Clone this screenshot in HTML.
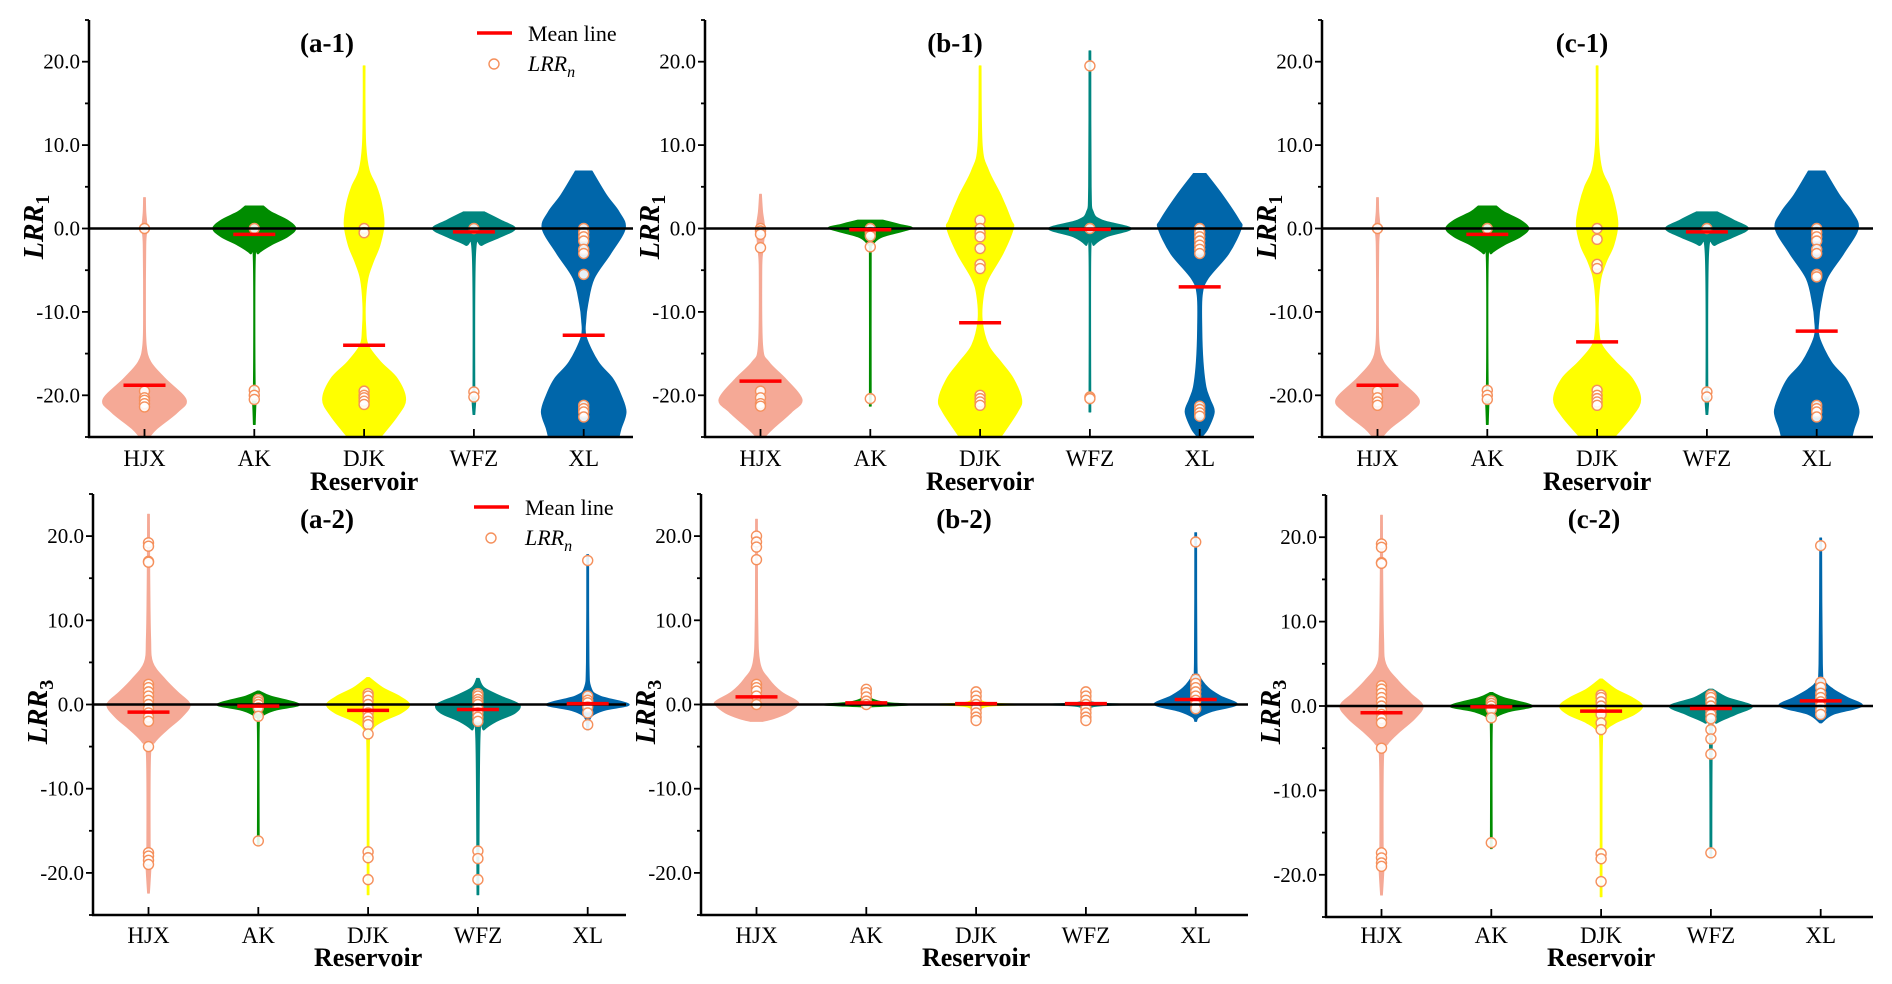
<!DOCTYPE html>
<html>
<head>
<meta charset="utf-8">
<style>
html,body{margin:0;padding:0;background:#fff;}
svg{display:block;}
text{font-family:"Liberation Serif","Times New Roman",serif;fill:#000;}
</style>
</head>
<body>
<svg id="fig" width="1892" height="984" viewBox="0 0 1892 984" xmlns="http://www.w3.org/2000/svg"></svg>
<script>
// ---------- data ----------
const categories = ["HJX","AK","DJK","WFZ","XL"];
const colors = ["#f5a996","#008c00","#ffff00","#008680","#0066aa"];
const yTicks = [20,10,0,-10,-20];
const yTickLabels = ["20.0","10.0","0.0","-10.0","-20.0"];
const panelTitles = ["(a-1)","(b-1)","(c-1)","(a-2)","(b-2)","(c-2)"];
const panelYLabelSub = ["1","1","1","3","3","3"];

// violin profiles: values (y) and relative half-widths (0..100)
const violinY_a1 = [[3.7,2,0,-2,-10,-14,-16,-18,-20.5,-22,-24,-25],[2.7,2,1,0,-1,-2,-3,-4,-19,-20,-21,-23.5],[19.5,15,10,7,5,3,0.5,-2,-4,-6,-9,-12,-14,-16,-18,-20.5,-22.5,-25],[2,1,0,-1,-2,-3,-19,-20,-22.3],[6.9,4,2,0,-3,-6,-9,-11,-13,-16,-18,-20,-22,-24,-25]];
const violinW_a1 = [[0,3,6,3,2,4,15,50,100,80,30,12],[22,40,80,100,80,40,10,2,2,7,4,0],[0,2,4,12,30,42,48,38,22,9,3,4,10,40,80,100,80,40],[25,65,100,65,20,4,2,5,0],[20,55,85,100,65,25,10,5,6,35,70,90,102,90,85]];
const means_a1 = [-18.8,-0.7,-14,-0.4,-12.8];
const points_a1 = [[0,-19.5,-20.3,-20.6,-21,-21.4],[0,-19.4,-20,-20.5],[0,-0.5,-19.5,-20,-20.3,-20.7,-21.1],[0,-19.6,-20.2],[0,-0.5,-1,-1.5,-2.5,-3,-5.5,-21.2,-21.6,-22,-22.6]];

const violinY_b1 = [[4.1,2,0,-2.5,-5,-14,-16,-18,-20.5,-22,-24,-25],[1,0.5,0,-1,-2,-3,-21.3],[19.5,10,7,4,1,0,-3,-6,-8,-11,-14,-16,-18,-20.5,-22,-25],[21.3,5,2,1,0,-1,-2,-3,-22],[6.6,4,1,0,-3,-6,-8,-12,-16,-19,-20.5,-22,-24,-25]];
const violinW_b1 = [[0,5,10,6,3,5,20,60,100,75,30,10],[30,70,100,30,5,2,0],[0,5,20,50,75,80,55,20,8,5,20,50,80,100,90,50],[0,3,8,30,100,40,10,2,0],[15,55,95,100,70,20,6,5,8,15,25,35,20,5]];
const means_b1 = [-18.3,-0.15,-11.3,-0.1,-7];
const points_b1 = [[0,-0.3,-0.7,-2.3,-19.5,-20.3,-21,-21.3],[0,-0.5,-0.9,-2.2,-20.4],[1,0,-0.5,-1,-2.4,-4.3,-4.8,-20,-20.4,-20.8,-21.2],[19.5,0,-20.2,-20.4],[0,-0.5,-1,-1.5,-2,-2.5,-3,-21.3,-21.7,-22.1,-22.5]];

const violinY_c1 = [[3.7,2,0,-2,-10,-14,-16,-18,-20.5,-22,-24,-25],[2.7,2,1,0,-1,-2,-3,-4,-19,-20,-21,-23.5],[19.5,15,10,7,5,3,0.5,-2,-4,-6,-9,-12,-14,-16,-18,-20.5,-22.5,-25],[2,1,0,-1,-2,-3,-19,-20,-22.3],[6.9,4,2,0,-3,-6,-9,-11,-13,-16,-18,-20,-22,-24,-25]];
const violinW_c1 = [[0,3,6,3,2,4,15,50,100,80,30,12],[22,40,80,100,80,40,10,2,2,7,4,0],[0,2,4,12,30,42,50,40,22,9,3,4,12,45,85,105,85,42],[25,65,100,65,20,4,2,5,0],[20,55,85,100,65,25,10,5,6,35,70,90,102,90,85]];
const means_c1 = [-18.8,-0.7,-13.6,-0.4,-12.3];
const points_c1 = [[0,-19.5,-20.3,-20.8,-21.2],[0,-19.4,-20,-20.5],[0,-1.3,-4.3,-4.8,-19.4,-20,-20.4,-20.8,-21.2],[0,-19.6,-20.2],[0,-0.5,-1,-1.5,-2.5,-3,-5.5,-5.8,-21.2,-21.6,-22,-22.6]];

const violinY_a2 = [[22.6,15,8,5,3,1.5,0,-1.5,-3,-4.5,-6,-17,-19,-22.4],[1.6,1,0,-0.7,-1.5,-3,-16.8],[3.2,2,1,0,-1,-2,-3,-5,-22.6],[3.1,2,1,0,-1,-2,-3,-4,-22.6],[17.8,5,2,1,0,-0.7,-1.5,-3]];
const violinW_a2 = [[0,3,5,10,40,70,100,80,45,15,5,4,6,0],[3,30,100,40,8,2,0],[3,35,75,100,80,35,10,3,0],[3,15,55,100,90,45,15,5,0],[0,3,8,30,100,40,8,0]];
const means_a2 = [-0.9,-0.2,-0.7,-0.6,0.1];
const points_a2 = [[19.2,18.8,17,16.9,2.4,2,1.5,1,0.5,0,-0.5,-1,-1.5,-2,-5,-17.6,-18,-18.5,-19],[0.6,0.3,0,-0.4,-1.4,-16.2],[1.3,1,0.5,0,-0.5,-1,-1.5,-2,-2.4,-3.5,-17.5,-18.2,-20.8],[1.3,1,0.6,0.3,0,-0.5,-1,-1.5,-2,-17.4,-18.3,-20.8],[17.1,1,0.5,0.2,-0.3,-1,-2.4]];

const violinY_b2 = [[22,10,5,3,1.5,0.5,0,-1,-1.7,-2],[2,1,0.3,0,-0.2,-0.3],[1.5,0.3,0,-0.3,-1.5],[1.5,0.3,0,-0.3,-1.5],[20.4,5,3.5,2,1,0,-0.8,-1.5,-2]];
const violinW_b2 = [[0,3,8,30,60,95,100,75,40,15],[0,3,40,110,50,0],[2,20,110,20,2],[2,15,100,15,2],[0,3,8,30,60,100,40,8,0]];
const means_b2 = [0.9,0.2,0.1,0.1,0.6];
const points_b2 = [[20,19.3,18.7,17.2,2.4,2,1.6,1,0],[1.8,1.4,0.9,0.4,0],[1.5,1,0.5,0,-0.5,-1,-1.5,-1.9],[1.5,1,0.5,0,-0.5,-1,-1.5,-1.9],[19.3,3,2.5,2,1.5,1,0.5,0,-0.5]];

const violinY_c2 = [[22.6,15,8,5,3,1.5,0,-1.5,-3,-4.5,-6,-17,-19,-22.4],[1.6,1,0,-0.7,-1.5,-3,-16.9],[3.2,2,1,0,-1,-2,-3,-5,-22.6],[2,1,0,-1,-2,-3,-18],[19.9,5,3,2,1,0,-1,-2]];
const violinW_c2 = [[0,3,5,10,40,70,100,80,45,15,5,4,6,0],[3,30,100,40,8,2,0],[3,35,75,100,80,35,10,3,0],[5,40,100,60,15,4,0],[0,4,10,30,65,100,30,0]];
const means_c2 = [-0.8,-0.1,-0.6,-0.3,0.6];
const points_c2 = [[19.2,18.8,17,16.9,2.4,2,1.5,1,0.5,0,-0.5,-1,-1.5,-2,-5,-17.4,-18,-18.6,-19],[0.6,0.3,0,-0.4,-1.4,-16.2],[1.3,1,0.5,0,-0.5,-1,-2,-2.8,-17.5,-18.1,-20.8],[1.3,1,0.5,0,-0.5,-1,-1.5,-2.8,-3.9,-5.7,-17.4],[19,2.8,2.2,1.5,1,0.5,0,-0.5,-1]];

// ---------- layout ----------
const panels = [
 {ax:89, right:633, top:20, bottom:437, titleX:327, titleY:52, yl:227, catY:466, resY:490, vy:violinY_a1, vw:violinW_a1, m:means_a1, p:points_a1, legend:{x:477,y:33}},
 {ax:705, right:1254, top:20, bottom:437, titleX:955, titleY:52, yl:227, catY:466, resY:490, vy:violinY_b1, vw:violinW_b1, m:means_b1, p:points_b1},
 {ax:1322, right:1873, top:20, bottom:437, titleX:1582, titleY:52, yl:227, catY:466, resY:490, vy:violinY_c1, vw:violinW_c1, m:means_c1, p:points_c1},
 {ax:93, right:626, top:494, bottom:915, titleX:327, titleY:528, yl:712, catY:943, resY:966, vy:violinY_a2, vw:violinW_a2, m:means_a2, p:points_a2, legend:{x:474,y:507}},
 {ax:701, right:1248, top:494, bottom:915, titleX:964, titleY:528, yl:712, catY:943, resY:966, vy:violinY_b2, vw:violinW_b2, m:means_b2, p:points_b2},
 {ax:1326, right:1873, top:495, bottom:917, titleX:1594, titleY:528, yl:712, catY:943, resY:966, vy:violinY_c2, vw:violinW_c2, m:means_c2, p:points_c2}
];
const YMIN=-25, YMAX=25, CAT_STEP=109.8, HALF_MAX=41.5;
const NS="http://www.w3.org/2000/svg";
const svg=document.getElementById('fig');
function mk(tag, attrs, parent){const e=document.createElementNS(NS,tag);for(const k in attrs)e.setAttribute(k,attrs[k]);(parent||svg).appendChild(e);return e;}

function smooth(pts){
  // Catmull-Rom to bezier, open
  let d="M"+pts[0][0].toFixed(2)+","+pts[0][1].toFixed(2);
  for(let i=0;i<pts.length-1;i++){
    const p0=pts[i-1]||pts[i], p1=pts[i], p2=pts[i+1], p3=pts[i+2]||p2;
    const c1=[p1[0]+(p2[0]-p0[0])/6, p1[1]+(p2[1]-p0[1])/6];
    const c2=[p2[0]-(p3[0]-p1[0])/6, p2[1]-(p3[1]-p1[1])/6];
    d+=" C"+c1[0].toFixed(2)+","+c1[1].toFixed(2)+" "+c2[0].toFixed(2)+","+c2[1].toFixed(2)+" "+p2[0].toFixed(2)+","+p2[1].toFixed(2);
  }
  return d;
}

panels.forEach((P,pi)=>{
  const g=mk('g',{});
  
  
  const yS=v=>P.bottom-(v-YMIN)/(YMAX-YMIN)*(P.bottom-P.top);
  const xS=i=>P.ax+55.5+i*CAT_STEP;
  const clipId='clip'+pi;
  const cp=mk('clipPath',{id:clipId},g);
  mk('rect',{x:P.ax,y:P.top-5,width:P.right-P.ax+5,height:P.bottom-P.top+5},cp);
  const plot=mk('g',{'clip-path':'url(#'+clipId+')'},g);

  // violins
  categories.forEach((c,i)=>{
    const ys=P.vy[i], ws=P.vw[i], cx=xS(i);
    const right=ys.map((v,k)=>[cx+Math.max(ws[k]/100*HALF_MAX,0.9), yS(v)]);
    const left=ys.map((v,k)=>[cx-Math.max(ws[k]/100*HALF_MAX,0.9), yS(v)]).reverse();
    let d=smooth(right);
    d+=" L"+left[0][0].toFixed(2)+","+left[0][1].toFixed(2)+" "+smooth(left).slice(1).replace(/^[^C]*/,'')+" Z";
    const path=mk('path',{d:d,fill:colors[i],stroke:colors[i],'stroke-width':1,'stroke-linejoin':'round'},plot);
    
    
  });
  // zero line
  const zl=mk('line',{x1:P.ax,x2:P.right,y1:yS(0),y2:yS(0),stroke:'#000','stroke-width':2.5},g);
  
  
  // points
  categories.forEach((c,i)=>{
    P.p[i].forEach(v=>{
      const pt=mk('circle',{cx:xS(i),cy:yS(v),r:5,fill:'#fff','fill-opacity':0.9,stroke:'#f5905c','stroke-width':1.4},plot);
      
      
    });
  });
  // means
  categories.forEach((c,i)=>{
    const ml=mk('line',{x1:xS(i)-21,x2:xS(i)+21,y1:yS(P.m[i]),y2:yS(P.m[i]),stroke:'#ff0000','stroke-width':3.5},g);
    
    
  });
  // axes
  const ya=mk('line',{x1:P.ax,x2:P.ax,y1:P.top,y2:P.bottom+1,stroke:'#000','stroke-width':2.5},g);
  
  
  const xa=mk('line',{x1:P.ax-1,x2:P.right,y1:P.bottom,y2:P.bottom,stroke:'#000','stroke-width':2.5},g);
  
  
  for(let v=-25;v<=25;v+=5){
    const major=(v%10===0);
    mk('line',{x1:P.ax-(major?7:4),x2:P.ax,y1:yS(v),y2:yS(v),stroke:'#000','stroke-width':1.8},g);
  }
  yTicks.forEach((v,k)=>{
    const t=mk('text',{x:P.ax-9,y:yS(v)+7,'text-anchor':'end','font-size':21},g);
    t.textContent=yTickLabels[k];
    
    
  });
  categories.forEach((c,i)=>{
    mk('line',{x1:xS(i),x2:xS(i),y1:P.bottom,y2:P.bottom-8,stroke:'#000','stroke-width':1.8},g);
    const t=mk('text',{x:xS(i),y:P.catY,'text-anchor':'middle','font-size':23},g);
    t.textContent=c;
    
    
  });
  const xt=mk('text',{x:xS(2),y:P.resY,'text-anchor':'middle','font-size':26,'font-weight':'bold'},g);
  xt.textContent='Reservoir';
  
  
  const yt=mk('text',{x:0,y:0,'text-anchor':'middle','font-size':28,'font-weight':'bold',transform:'translate('+(P.ax-46)+','+P.yl+') rotate(-90)'},g);
  
  
  const ts1=mk('tspan',{'font-style':'italic'},yt); ts1.textContent='LRR';
  const ts2=mk('tspan',{'font-size':20,dy:6},yt); ts2.textContent=panelYLabelSub[pi];
  const tt=mk('text',{x:P.titleX,y:P.titleY,'text-anchor':'middle','font-size':27,'font-weight':'bold'},g);
  tt.textContent=panelTitles[pi];
  
  
  if(P.legend){
    const L=P.legend;
    const lg=mk('g',{},g);
    
    
    mk('line',{x1:L.x,x2:L.x+35,y1:L.y,y2:L.y,stroke:'#ff0000','stroke-width':3.5},lg);
    const t1=mk('text',{x:L.x+51,y:L.y+8,'font-size':22},lg); t1.textContent='Mean line';
    mk('circle',{cx:L.x+17,cy:L.y+31,r:5,fill:'#fff',stroke:'#f5905c','stroke-width':1.4},lg);
    const t2=mk('text',{x:L.x+51,y:L.y+38,'font-size':22,'font-style':'italic'},lg);
    const s1=mk('tspan',{},t2); s1.textContent='LRR';
    const s2=mk('tspan',{'font-size':16,dy:6},t2); s2.textContent='n';
  }
});
</script>
</body>
</html>
